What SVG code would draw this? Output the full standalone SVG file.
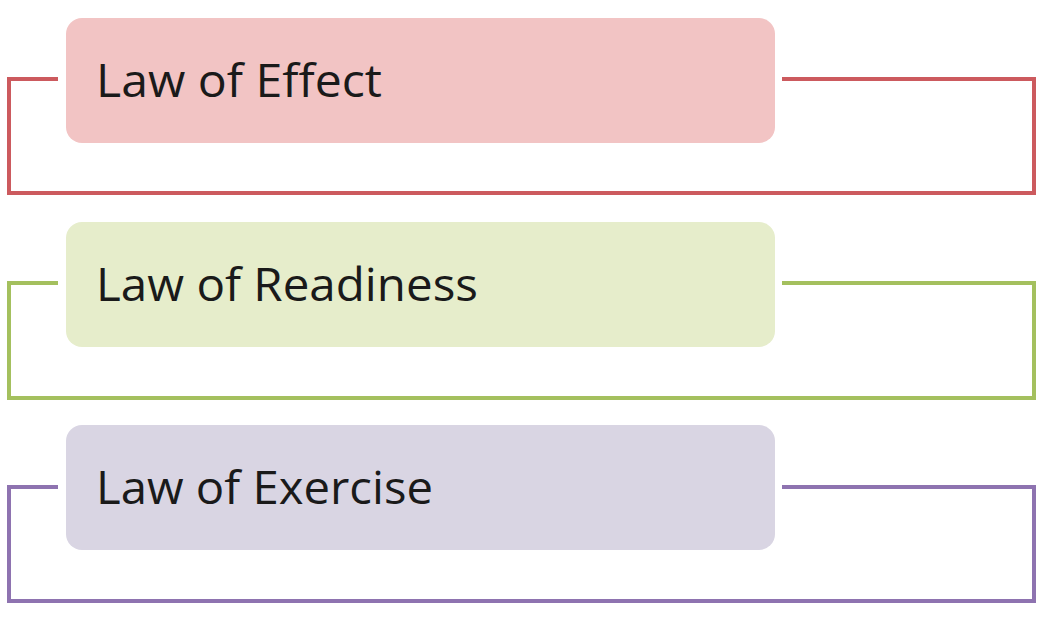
<svg xmlns="http://www.w3.org/2000/svg" width="1046" height="619" viewBox="0 0 1046 619">
<style>
.box{stroke:none}
.br{fill:none;stroke-width:4;stroke-linejoin:miter}
.t{font-family:"Open Sans","Liberation Sans",sans-serif;font-size:46px;fill:#1a1a1a}
</style>
<rect width="1046" height="619" fill="#ffffff"/>
<g id="connectors">
<path class="br" stroke="#cc5a5e" d="M58,79 H9 V193 H1034 V79 H782"/>
<path class="br" stroke="#a4c05e" d="M58,283 H9 V398 H1034 V283 H782"/>
<path class="br" stroke="#8e73b0" d="M58,487 H9 V601 H1034 V487 H782"/>
</g>
<g id="node-effect">
<rect class="box" x="66" y="18" width="709" height="125" rx="16" fill="#f2c4c4"/>
<text class="t" x="96" y="97" textLength="286" lengthAdjust="spacingAndGlyphs">Law of Effect</text>
</g>
<g id="node-readiness">
<rect class="box" x="66" y="222" width="709" height="125" rx="16" fill="#e6edcb"/>
<text class="t" x="96" y="301" textLength="382" lengthAdjust="spacingAndGlyphs">Law of Readiness</text>
</g>
<g id="node-exercise">
<rect class="box" x="66" y="425" width="709" height="125" rx="16" fill="#d9d5e3"/>
<text class="t" x="96" y="504" textLength="337" lengthAdjust="spacingAndGlyphs">Law of Exercise</text>
</g>
</svg>
